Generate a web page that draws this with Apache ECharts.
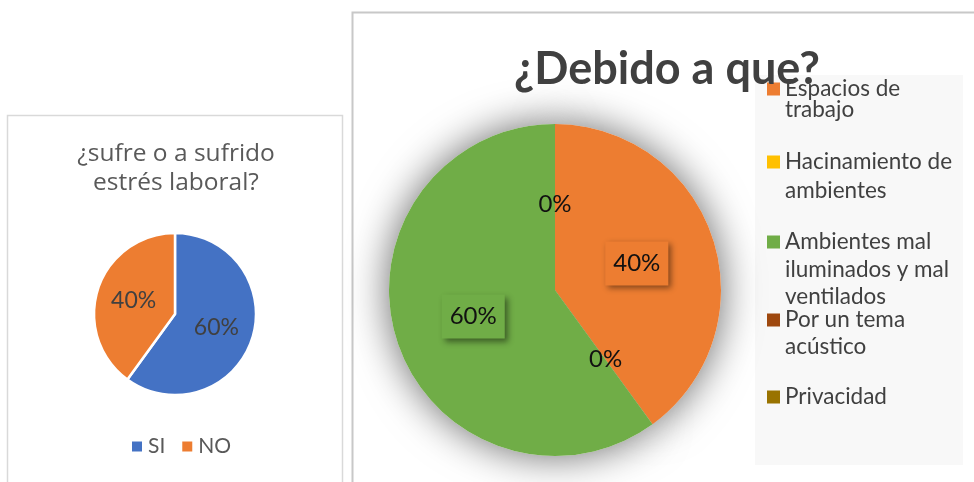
<!DOCTYPE html>
<html>
<head>
<meta charset="utf-8">
<script src="https://cdn.jsdelivr.net/npm/echarts@6/dist/echarts.min.js"></script>
<style>
	html, body { margin: 0; padding: 0; background: #fff; }
	#chart { width: 974px; height: 482px; }
</style>
</head>
<body>
<div id="chart"></div>
<script>
// datos del gráfico izquierdo
const leftNames = ['SI', 'NO']
const leftValues = [60, 40]
const leftColors = ['#4472C4', '#ED7D31']

// datos del gráfico derecho
const rightNames = ['Espacios de trabajo', 'Hacinamiento de ambientes', 'Ambientes mal iluminados y mal ventilados', 'Por un tema acústico', 'Privacidad']
const rightValues = [40, 0, 60, 0, 0]
const rightColors = ['#ED7D31', '#FFC000', '#70AD47', '#9E480E', '#997300']
// texto de la leyenda con saltos de línea como en la imagen
const rightLegendText = ['Espacios de\ntrabajo', 'Hacinamiento de\nambientes', 'Ambientes mal\niluminados y mal\nventilados', 'Por un tema\nacústico', 'Privacidad']

const chartDom = document.getElementById('chart')
const myChart = echarts.init(chartDom, null, { renderer: 'canvas' })

// layout de cada item de la leyenda derecha: centro del icono y alto de línea
const legendLayout = [
	{ center: 88, lh: 21 },
	{ center: 162, lh: 29 },
	{ center: 242, lh: 27.5 },
	{ center: 320, lh: 27 },
	{ center: 397, lh: 27 },
]

// el texto se centra en el icono: se anteponen líneas vacías para que la primera línea quede a su altura
const rightLegends = rightNames.map((name, i) => {
	const lay = legendLayout[i]
	const n = rightLegendText[i].split('\n').length
	const text = '\n'.repeat(n - 1) + rightLegendText[i]
	const h = (2 * n - 1) * lay.lh
	return {
		data: [name],
		orient: 'vertical',
		left: 767,
		top: lay.center - h / 2,
		padding: 0,
		itemWidth: 13,
		itemHeight: 13,
		selectedMode: false,
		icon: 'rect',
		formatter: () => text,
		textStyle: {
			fontFamily: 'Lato',
			fontSize: 22.5,
			color: '#404040',
			lineHeight: lay.lh,
		},
	}
})

const option = {
	backgroundColor: '#fff',
	animation: false,
	graphic: [
		{
			type: 'rect',
			z: 0,
			shape: { x: 7.5, y: 115.5, width: 335, height: 400 },
			style: { fill: 'none', stroke: '#D9D9D9', lineWidth: 1.5 },
		},
		{
			type: 'rect',
			z: 0,
			shape: { x: 352.5, y: 12.5, width: 700, height: 500 },
			style: { fill: 'none', stroke: '#C8C8C8', lineWidth: 2 },
		},
		{
			type: 'rect',
			z: 0,
			shape: { x: 755, y: 75, width: 208, height: 390 },
			style: { fill: '#F8F8F8' },
		},
	],
	title: [
		{
			text: '¿sufre o a sufrido\nestrés laboral?',
			left: 176,
			top: 140,
			textAlign: 'center',
			padding: 0,
			textStyle: {
				fontFamily: 'Open Sans',
				fontWeight: 'normal',
				fontSize: 24.5,
				lineHeight: 29,
				color: '#595959',
			},
		},
		{
			text: '¿Debido a que?',
			left: 667,
			top: 47,
			textAlign: 'center',
			padding: 0,
			textStyle: {
				fontFamily: 'Lato',
				fontWeight: 'bold',
				fontSize: 45,
				color: '#404040',
			},
		},
	],
	legend: [
		{
			data: leftNames,
			orient: 'horizontal',
			left: 130,
			top: 436,
			padding: 0,
			itemWidth: 12,
			itemHeight: 12,
			itemGap: 15,
			selectedMode: false,
			icon: 'rect',
			textStyle: {
				fontFamily: 'Lato',
				fontSize: 21,
				color: '#595959',
				lineHeight: 20,
			},
		},
		...rightLegends,
	],
	series: [
		{
			name: 'estrés',
			type: 'pie',
			center: [175, 314],
			radius: 81,
			startAngle: 90,
			clockwise: true,
			silent: true,
			percentPrecision: 0,
			data: leftNames.map((name, i) => ({ name, value: leftValues[i], itemStyle: { color: leftColors[i] } })),
			itemStyle: { borderColor: '#fff', borderWidth: 2.5 },
			label: {
				position: 'inside',
				formatter: '{d}%',
				fontFamily: 'Lato',
				fontSize: 23,
				color: '#404040',
			},
			labelLine: { show: false },
		},
		{
			name: 'debido',
			type: 'pie',
			z: 3,
			center: [555, 290],
			radius: 166,
			startAngle: 90,
			clockwise: true,
			silent: true,
			percentPrecision: 0,
			data: rightNames.map((name, i) => ({
				name,
				value: rightValues[i],
				itemStyle: { color: rightColors[i] },
				label: rightValues[i] > 0 ? {
					backgroundColor: rightColors[i],
					shadowBlur: 6,
					shadowOffsetX: 3,
					shadowOffsetY: 3,
					shadowColor: 'rgba(0,0,0,0.45)',
				} : {},
			})),
			label: {
				position: 'inside',
				formatter: '{d}%',
				fontFamily: 'Lato',
				fontSize: 24,
				color: '#111',
				padding: [11, 8, 9, 8],
			},
			labelLine: { show: false },
		},
		{
			// sombra difusa del pie de la derecha
			name: 'sombra',
			type: 'pie',
			z: 1,
			center: [555, 290],
			radius: 166,
			startAngle: 90,
			silent: true,
			data: rightValues.map((v) => ({ name: '', value: v })),
			itemStyle: { color: '#fff', shadowBlur: 40, shadowColor: 'rgba(0,0,0,0.6)' },
			label: { show: false },
			labelLine: { show: false },
		},
	],
}

option && myChart.setOption(option)
</script>
</body>
</html>
